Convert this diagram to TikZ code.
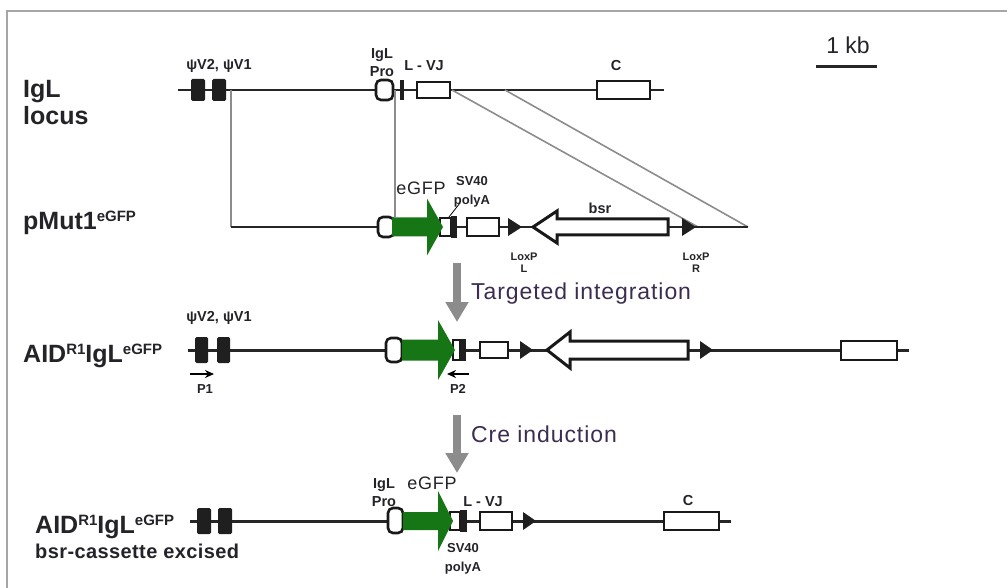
\documentclass[tikz,border=0pt]{standalone}
\usepackage{fontspec}
\setmainfont{Liberation Sans}
\usetikzlibrary{arrows.meta,positioning}

\definecolor{ink}{RGB}{35,35,40}
\definecolor{procink}{RGB}{60,45,80}
\definecolor{gfpgreen}{RGB}{22,118,22}
\newcommand{\upscript}[1]{\raisebox{8pt}{\fontsize{15}{15}\selectfont #1}}

\begin{document}
\begin{tikzpicture}[x=1pt, y=-1pt,
  every node/.style={inner sep=0pt, text=ink},
  rowlabel/.style={font=\bfseries\fontsize{25}{27}\selectfont, align=left},
  gene/.style={font=\bfseries\fontsize{14.5}{18}\selectfont, align=center},
  loxlbl/.style={font=\bfseries\fontsize{11}{12}\selectfont, align=center},
  polylbl/.style={font=\bfseries\fontsize{13}{19}\selectfont, align=center},
  gfplbl/.style={font=\fontsize{18}{18}\selectfont\addfontfeature{LetterSpace=4}},
  proclbl/.style={font=\fontsize{23}{23}\selectfont\addfontfeature{LetterSpace=4}, text=procink, anchor=west},
  dna/.style={draw=black!85, line width=2pt},
  exon/.style={draw=black!90, fill=white, line width=2.6pt},
  pseudo/.style={fill=black!88, rounded corners=1.5pt},
  blk/.style={fill=black!88},
  guide/.style={draw=black!45, line width=1.6pt},
  outline/.style={draw=black!35, line width=1.5pt},
  procarrow/.style={draw=black!45, line width=8pt, -{Triangle[width=22pt,length=20pt]}},
  primer/.style={draw=black, line width=1.8pt, -{Stealth[length=9pt,width=8pt]}}
]
\useasboundingbox (0,0) rectangle (1007,588);
\draw[outline] (7,588) -- (7,11) -- (1007,11);

% scale bar
\node[font=\fontsize{23}{23}\selectfont] (kb) at (848,45) {1 kb};
\draw[line width=3pt, draw=black!85] (816,67) -- (877,67);

%% IgL locus
\node[rowlabel, anchor=north west] (locus) at (23,80) {IgL\\locus};
\draw[dna] (178,90) -- (664,90);
\foreach \x in {191,212} \fill[pseudo] (\x,79) rectangle ++(14,22);
\draw[exon, rounded corners=5pt] (376,80) rectangle (393,100);
\fill[blk] (400,80) rectangle (404,100);
\draw[exon] (417,82) rectangle (450,98);
\draw[exon] (597,81) rectangle (650,99);
\node[gene] (psi1) at (219,66) {ψV2, ψV1};
\node[gene] (pro1) at (382,63) {IgL\\Pro};
\node[gene] (vj1) at (424,66) {L - VJ};
\node[gene] (c1) at (616,66) {C};

% homology arms
\coordinate (h1) at (231,90);  \coordinate (h1b) at (231,227);
\coordinate (h2) at (395,90);  \coordinate (h2b) at (395,217);
\coordinate (h3) at (452,90);  \coordinate (h3b) at (698,227);
\coordinate (h4) at (505,90);  \coordinate (h4b) at (748,227);
\foreach \a/\b in {h1/h1b,h2/h2b,h3/h3b,h4/h4b} \draw[guide] (\a) -- (\b);

%% pMut1 targeting vector
\node[rowlabel, anchor=base west] (vec) at (23,230) {pMut1\upscript{eGFP}};
\draw[dna] (h1b) -- (h4b);
\draw[exon, rounded corners=5pt] (378,217) rectangle (394,237);
\draw[exon, line width=2pt] (440,218) rectangle (451,236);
\fill[blk] (451,216) rectangle (457,238);
\draw[exon] (467,218) rectangle (499,236);
\foreach \x in {508,682} \fill[blk] (\x,218) -- (\x,236) -- (\x+14,227) -- cycle;
\draw[exon, line width=3pt] (533,227) -- (557,211) -- (557,219) -- (668,219) -- (668,235) -- (557,235) -- (557,243) -- cycle;
\draw[black, line width=0.8pt] (449,217) -- (460,203);
\node[gfplbl] (gfp2) at (421,188) {eGFP};
\node[polylbl] (pa2) at (472,192) {SV40\\polyA};
\node[gene] (bsr2) at (600,208) {bsr};
\node[loxlbl] (lxl) at (524,263) {LoxP\\L};
\node[loxlbl] (lxr) at (696,263) {LoxP\\R};

% process steps
\coordinate (s1) at (457,263); \coordinate (s1b) at (457,322);
\coordinate (s2) at (457,415); \coordinate (s2b) at (457,473);
\draw[procarrow] (s1) -- (s1b);
\draw[procarrow] (s2) -- (s2b);
\node[proclbl] (ti) at (471,294) {Targeted integration};
\node[proclbl] (cre) at (471,434) {Cre induction};

%% targeted allele
\node[rowlabel, anchor=base west] (tgt) at (23,362) {AID\upscript{R1}IgL\upscript{eGFP}};
\draw[dna, line width=3pt] (188,350) -- (909,350);
\foreach \x in {195,217} \fill[pseudo] (\x,337) rectangle ++(13,26);
\draw[exon, rounded corners=5pt] (386,338) rectangle (402,362);
\draw[exon, line width=2pt] (453,340) rectangle (460,360);
\fill[blk] (460,339) rectangle (466,361);
\draw[exon] (480,342) rectangle (508,358);
\foreach \x in {520,700} \fill[blk] (\x,341) -- (\x,359) -- (\x+13,350) -- cycle;
\draw[exon, line width=3pt] (547,350) -- (570,332) -- (570,341) -- (688,341) -- (688,359) -- (570,359) -- (570,368) -- cycle;
\draw[exon] (841,341) rectangle (897,360);
\node[gene] (psi3) at (219,318) {ψV2, ψV1};
\coordinate (p1a) at (190,374); \coordinate (p1b) at (214,374);
\coordinate (p2a) at (469,374); \coordinate (p2b) at (447,374);
\draw[primer] (p1a) -- (p1b);
\draw[primer] (p2a) -- (p2b);
\node[gene, font=\bfseries\fontsize{13}{13}\selectfont] (pr1) at (205,389) {P1};
\node[gene, font=\bfseries\fontsize{13}{13}\selectfont] (pr2) at (458,389) {P2};

%% excised allele
\node[rowlabel, anchor=base west] (exc) at (35,533) {AID\upscript{R1}IgL\upscript{eGFP}};
\node[font=\bfseries\fontsize{20}{20}\selectfont\addfontfeature{LetterSpace=2}, anchor=base west] (exc2) at (35,558) {bsr-cassette excised};
\draw[dna, line width=3pt] (190,521) -- (731,521);
\foreach \x in {197,218} \fill[pseudo] (\x,508) rectangle ++(14,26);
\draw[exon, rounded corners=5pt] (388,508) rectangle (403,533);
\draw[exon, line width=2pt] (450,512) rectangle (460,530);
\fill[blk] (460,510) rectangle (467,532);
\draw[exon] (480,512) rectangle (512,530);
\fill[blk] (523,512) -- (523,530) -- (536,521) -- cycle;
\draw[exon] (664,512) rectangle (719,530);
\node[gene] (pro4) at (384,493) {IgL\\Pro};
\node[gfplbl] (gfp4) at (432,483) {eGFP};
\node[gene] (vj4) at (483,502) {L - VJ};
\node[polylbl] (pa4) at (463,559) {SV40\\polyA};
\node[gene] (c4) at (688,501) {C};

% eGFP reporters
\foreach \a/\b/\t/\y/\hb/\hh in {392/427/443/227/9.5/28.5, 402/438/455/350/10.5/30, 403/438/453/521/9/30}
  \fill[gfpgreen] (\a,\y-\hb) -- (\b,\y-\hb) -- (\b,\y-\hh) -- (\t,\y) -- (\b,\y+\hh) -- (\b,\y+\hb) -- (\a,\y+\hb) -- cycle;
\end{tikzpicture}
\end{document}
